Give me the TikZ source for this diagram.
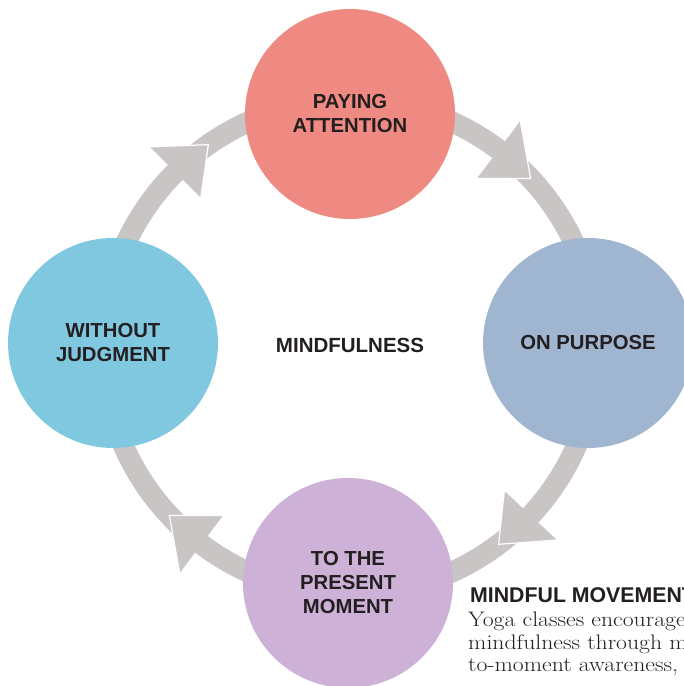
\documentclass[tikz,border=0pt]{standalone}
\usepackage{fontspec}
\newfontfamily\headfont{Liberation Sans}
\definecolor{ringgray}{RGB}{201,197,196}
\definecolor{attcol}{RGB}{239,138,130}
\definecolor{purcol}{RGB}{160,181,207}
\definecolor{momcol}{RGB}{205,177,215}
\definecolor{judcol}{RGB}{128,200,224}
\definecolor{inkcol}{RGB}{35,31,32}
\newcommand{\stretchline}[1]{\scalebox{1.13}[1]{#1}}

\begin{document}
\begin{tikzpicture}[x=1pt, y=1pt,
  phase/.style={circle, minimum size=210pt, inner sep=0pt, align=center, text=inkcol,
               font=\headfont\bfseries\fontsize{20.3}{24}\selectfont},
  ring/.style={draw=ringgray, line width=21pt},
  tipedge/.style={draw=white, line width=1.2pt},
  sidehead/.style={anchor=base west, inner sep=0pt, text=inkcol,
                   font=\headfont\bfseries\fontsize{21.3}{24}\selectfont},
  sidebody/.style={anchor=base west, inner sep=0pt, text=inkcol,
                   font=\fontsize{21}{22.5}\selectfont}
]
\useasboundingbox (0,0) rectangle (684,686);
\clip (0,0) rectangle (684,686);

\coordinate (hub) at (350,339);
\draw[ring] (hub) circle[radius=247];

% arrowheads: base at \b, tip ten degrees further round
\begin{scope}[shift={(hub)}]
  \foreach \b in {53,-43,233,135}{
    \fill[ringgray] (\b:211) -- (\b-10:247) -- (\b:283) -- cycle;
    \draw[tipedge] (\b:211) -- (\b-10:247) -- (\b:283);
  }
\end{scope}

\node[phase, fill=attcol] (att) at (350,572) {PAYING\\ATTENTION};
\node[phase, fill=purcol] (pur) at (588,343) {ON PURPOSE};
\node[phase, fill=momcol] (mom) at (348,103) {TO THE\\PRESENT\\MOMENT};
\node[phase, fill=judcol] (jud) at (113,343) {WITHOUT\\JUDGMENT};

\node[text=inkcol, font=\headfont\bfseries\fontsize{20.5}{24}\selectfont] (mind) at (350,341) {MINDFULNESS};

\node[sidehead] (side) at (470,83) {MINDFUL MOVEMENT};
\node[sidebody] (body1) at (468,59) {\stretchline{Yoga classes encourage}};
\node[sidebody] (body2) at (468,36) {\stretchline{mindfulness through m}};
\node[sidebody] (body3) at (468,14) {\stretchline{to-moment awareness,}};
\end{tikzpicture}
\end{document}
